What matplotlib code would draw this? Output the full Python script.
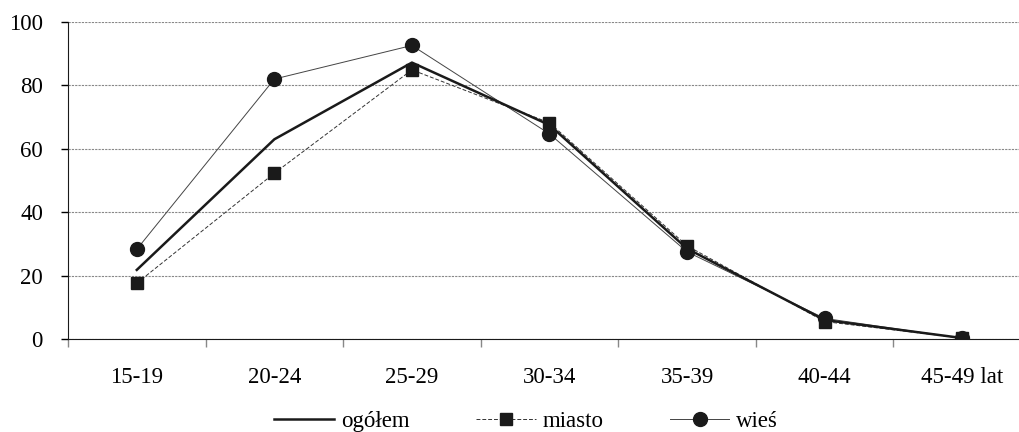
import numpy as np
import matplotlib.pyplot as plt

# age groups and fertility values
labels = ['15-19', '20-24', '25-29', '30-34', '35-39', '40-44', '45-49 lat']
ogolem = [21.8, 63.0, 87.2, 67.5, 28.5, 6.0, 0.3]
miasto = [17.6, 52.3, 84.9, 68.2, 29.4, 5.5, 0.3]
wies = [28.3, 82.0, 92.6, 64.7, 27.5, 6.5, 0.2]

plt.rcParams['font.family'] = ['Liberation Serif', 'DejaVu Serif']
fs = 16.5

fig = plt.figure(figsize=(10.2, 4.32), dpi=100)
ax = fig.add_axes([68/1020, 93/432, (1031-68)/1020, (339-22)/432])

x = np.arange(len(labels))
ax.plot(x, ogolem, color='#1a1a1a', lw=1.8, label='ogółem', zorder=4)
ax.plot(x, miasto, color='#333333', lw=0.7, ls=(0, (4, 2)), marker='s',
        ms=8, mfc='#1a1a1a', mec='#1a1a1a', label='miasto', zorder=3)
ax.plot(x, wies, color='#444444', lw=0.7, marker='o', ms=10,
        mfc='#1a1a1a', mec='#1a1a1a', label='wieś', zorder=3)

ax.set_xlim(-0.5, 6.5)
ax.set_ylim(0, 100)
ax.set_yticks([0, 20, 40, 60, 80, 100])
ax.set_xticks(x)
ax.set_xticklabels(labels)
ax.set_xticks(np.arange(-0.5, 7, 1), minor=True)
ax.tick_params(axis='x', which='major', length=0, pad=20, labelsize=fs)
ax.tick_params(axis='x', which='minor', length=6, color='#888888', width=1)
ax.tick_params(axis='y', length=5, width=1, labelsize=fs, pad=13)
ax.yaxis.grid(True, ls=(0, (2, 1)), color='#888888', lw=0.8)
ax.set_axisbelow(True)
for s in ['top', 'right']:
    ax.spines[s].set_visible(False)
ax.spines['left'].set_color('#1a1a1a')
ax.spines['bottom'].set_color('#1a1a1a')

fig.legend(loc='lower center', bbox_to_anchor=(0.516, -0.047), ncol=3,
           frameon=False, fontsize=fs, handlelength=2.6, columnspacing=2.9,
           handletextpad=0.3)

fig.savefig('out.png', dpi=100)
